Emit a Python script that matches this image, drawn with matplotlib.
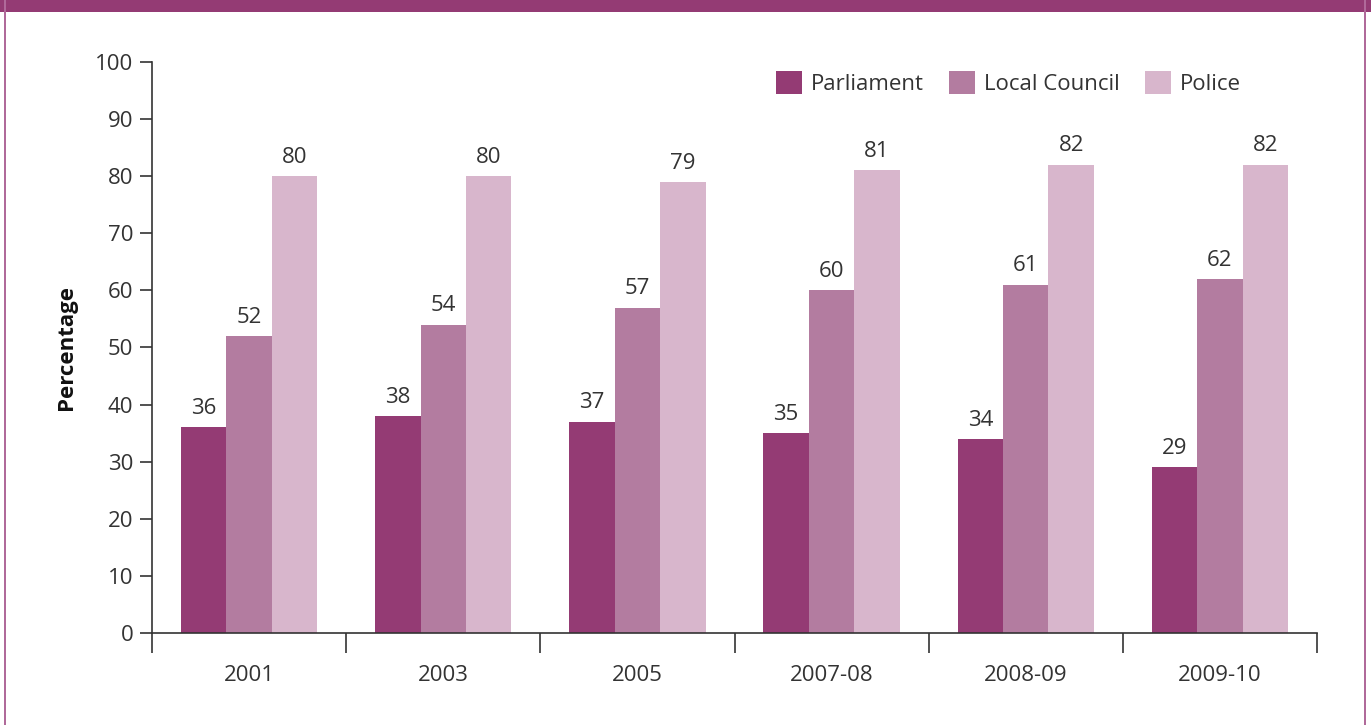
import numpy as np
import matplotlib.pyplot as plt
from matplotlib.patches import Rectangle

plt.rcParams['font.family'] = ['Open Sans', 'DejaVu Sans']

years = ["2001", "2003", "2005", "2007-08", "2008-09", "2009-10"]
parliament = [36, 38, 37, 35, 34, 29]
local_council = [52, 54, 57, 60, 61, 62]
police = [80, 80, 79, 81, 82, 82]

series_names = ["Parliament", "Local Council", "Police"]
series_colors = ["#943b74", "#b37ca0", "#d8b6cc"]
text_color = "#333333"
fsize = 16

fig = plt.figure(figsize=(13.71, 7.25), dpi=100)
ax = fig.add_axes([0.1109, 0.1269, 0.8497, 0.7876])

# panel frame: solid band across the top, thin rules down the sides
fig.patches.append(Rectangle((0, 1 - 12 / 725), 1, 12 / 725, transform=fig.transFigure,
                             facecolor="#943b74", edgecolor="none"))
fig.patches.append(Rectangle((4 / 1371, 0), 2 / 1371, 1, transform=fig.transFigure,
                             facecolor="#b06a9a", edgecolor="none"))
fig.patches.append(Rectangle((1364 / 1371, 0), 2 / 1371, 1, transform=fig.transFigure,
                             facecolor="#b06a9a", edgecolor="none"))

x = np.arange(len(years))
width = 0.234
for i, (vals, name, col) in enumerate(zip([parliament, local_council, police],
                                          series_names, series_colors)):
    pos = x + (i - 1) * width
    ax.bar(pos, vals, width, color=col, label=name, linewidth=0)
    for p, v in zip(pos, vals):
        ax.annotate(str(v), (p, v), xytext=(0, 6), textcoords="offset points",
                    ha="center", va="bottom", fontsize=fsize, color=text_color)

ax.set_xlim(-0.5, len(years) - 0.5)
ax.set_ylim(0, 100)
ax.set_yticks(np.arange(0, 101, 10))
ax.set_xticks(np.arange(-0.5, len(years), 1.0))
ax.set_xticklabels([])
ax.set_xticks(x, minor=True)
ax.set_xticklabels(years, minor=True)
ax.tick_params(axis="x", which="major", direction="out", length=14.5, width=1.2,
               color=text_color)
ax.tick_params(axis="x", which="minor", length=0, pad=23, labelsize=fsize,
               labelcolor=text_color)
ax.tick_params(axis="y", direction="out", length=8.5, width=1.2, color=text_color,
               labelsize=fsize, labelcolor=text_color, pad=5)

for side in ["top", "right"]:
    ax.spines[side].set_visible(False)
for side in ["left", "bottom"]:
    ax.spines[side].set_color(text_color)
    ax.spines[side].set_linewidth(1.2)

ax.set_ylabel("Percentage", fontsize=fsize, fontweight="bold", color="#111111",
              labelpad=13)

ax.legend(loc="center right", bbox_to_anchor=(0.952, 0.963), ncol=3, frameon=False,
          fontsize=fsize, handlelength=1.2, handleheight=1.2, handletextpad=0.4,
          columnspacing=1.1, labelcolor=text_color)

fig.savefig("out.png", dpi=100)
